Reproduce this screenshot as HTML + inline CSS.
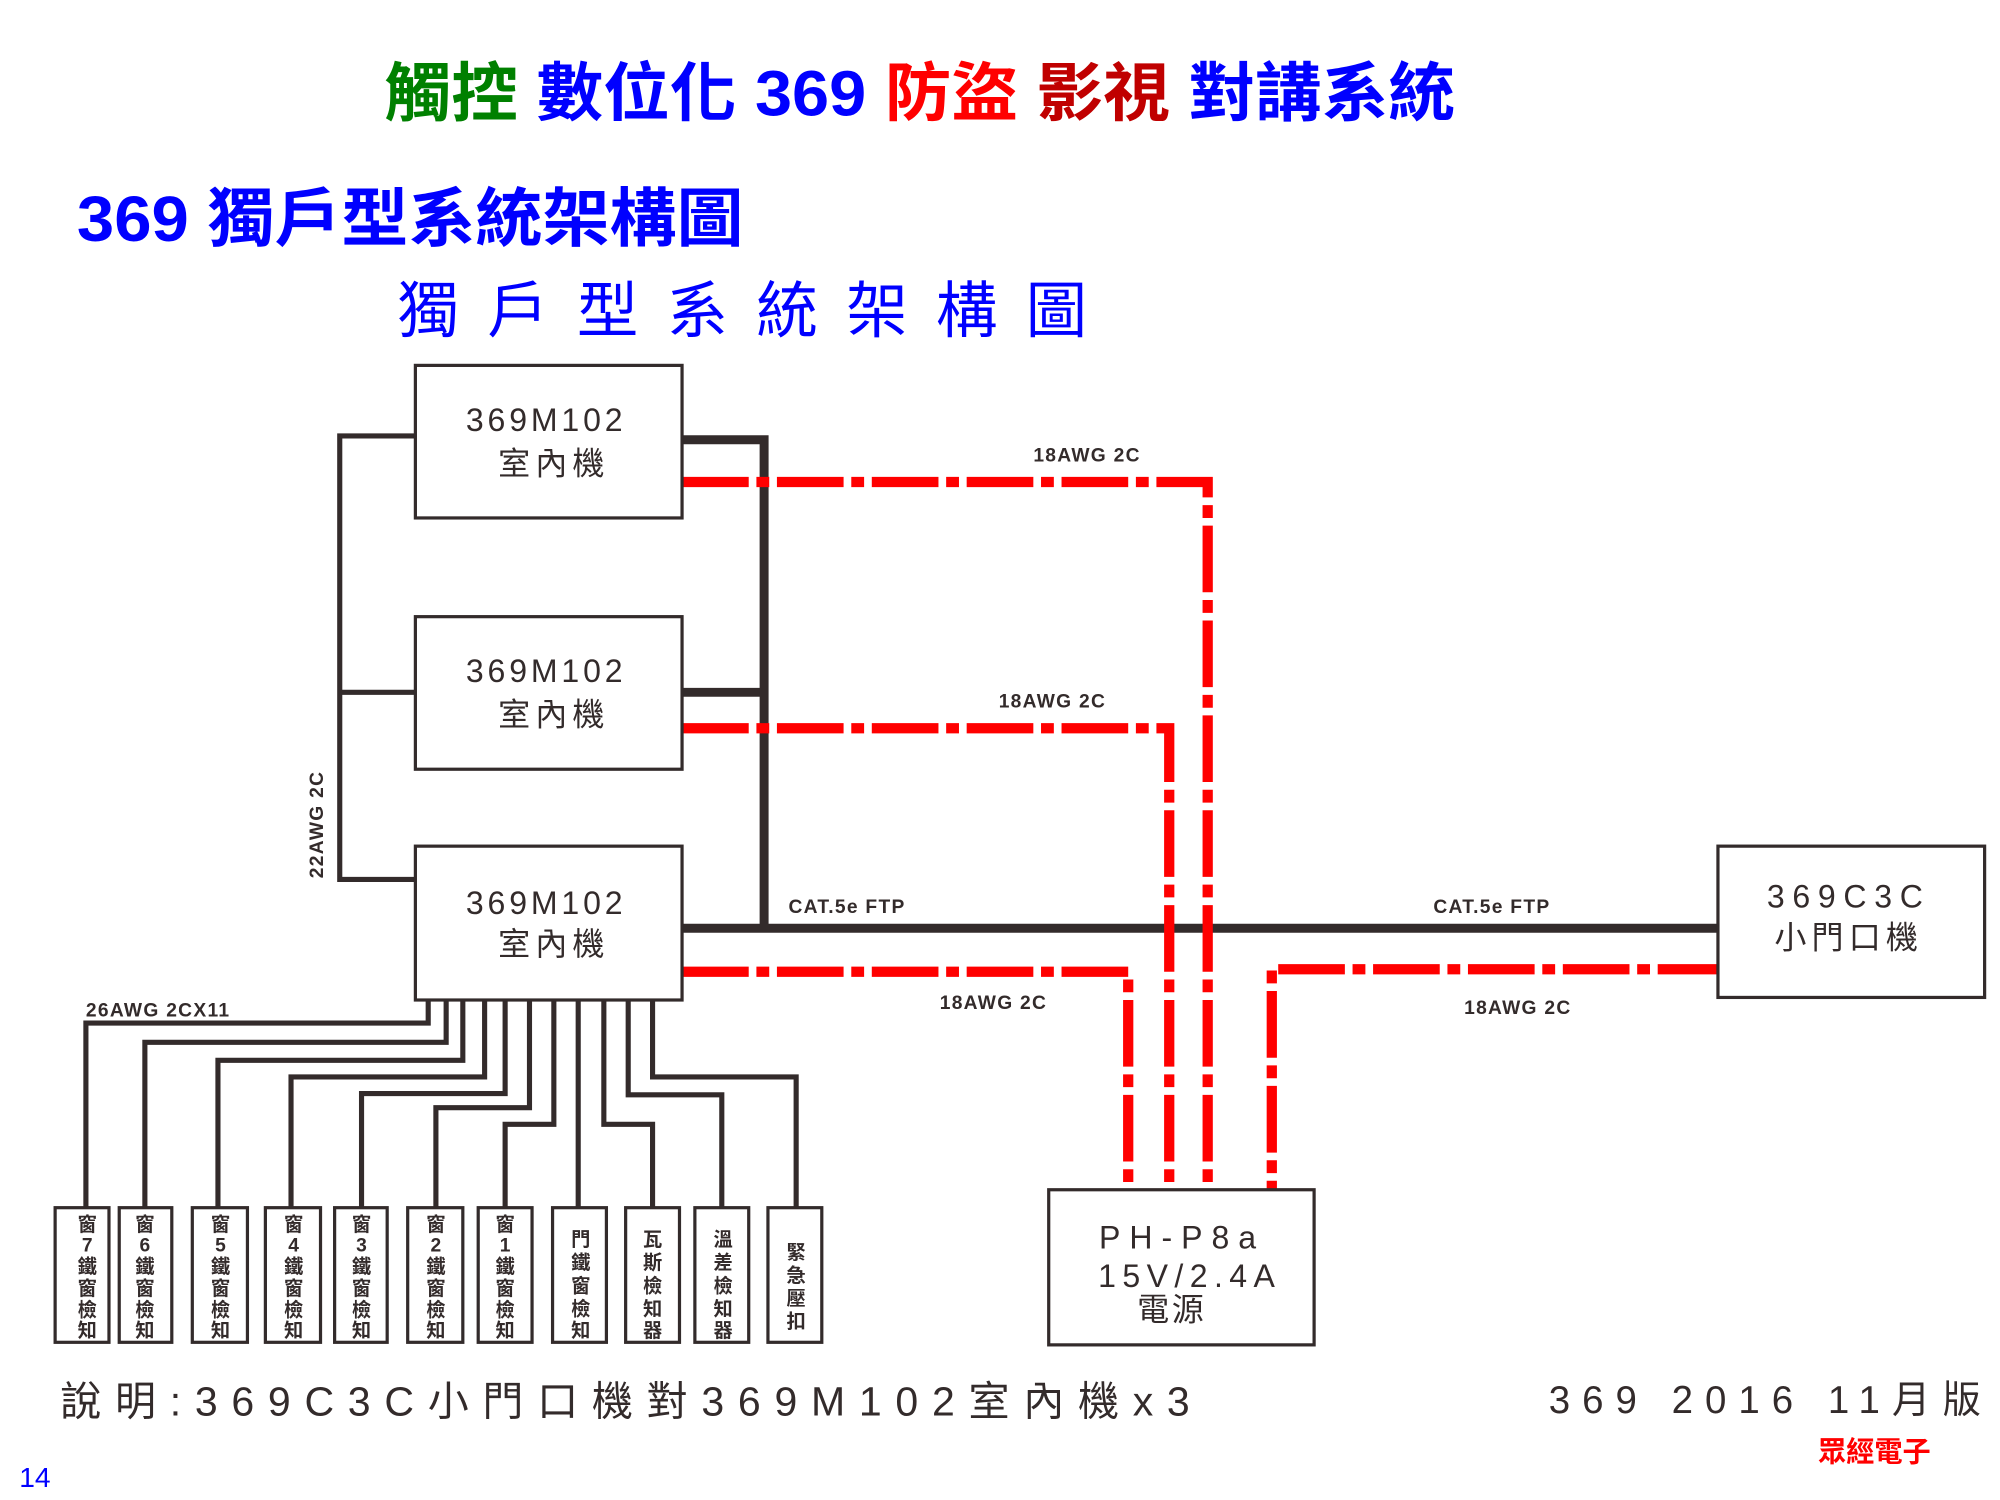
<!DOCTYPE html>
<html><head><meta charset="utf-8"><style>
html,body{margin:0;padding:0;background:#fff;}
svg{display:block;}
text{font-family:"Liberation Sans","Noto Sans CJK TC",sans-serif;}
</style></head><body>
<svg width="2000" height="1500" viewBox="0 0 1560 1170" xmlns="http://www.w3.org/2000/svg">
<rect width="1560" height="1170" fill="#fff"/>
<!-- titles -->
<text x="300" y="90" font-size="50" font-weight="bold" textLength="835" lengthAdjust="spacingAndGlyphs"><tspan fill="#008000">觸控</tspan><tspan fill="#0000ff"> 數位化 369 </tspan><tspan fill="#ff0000">防盜</tspan><tspan fill="#c00000"> 影視</tspan><tspan fill="#0000ff"> 對講系統</tspan></text>
<text x="60" y="188" font-size="50" font-weight="bold" fill="#0000ff" textLength="520" lengthAdjust="spacingAndGlyphs">369 獨戶型系統架構圖</text>
<text x="310" y="259" font-size="48" fill="#0000ff" textLength="538" lengthAdjust="spacing">獨戶型系統架構圖</text>

<g fill="none" stroke="#332b2b">
<path d="M265 340 V686 M263 340 H324 M263 540 H324 M263 686 H324" stroke-width="4"/>
<path d="M532 343 H596 V725 M532 540 H596 M532 724 H1340" stroke-width="7"/>
<g stroke-width="4">
<path d="M67 942 V798 H334 V780"/>
<path d="M113 942 V813 H348 V780"/>
<path d="M170 942 V827 H361 V780"/>
<path d="M227 942 V840 H378 V780"/>
<path d="M282 942 V853 H394 V780"/>
<path d="M340 942 V864 H413 V780"/>
<path d="M394 942 V877 H432 V780"/>
<path d="M451 942 V780"/>
<path d="M509 942 V877 H471 V780"/>
<path d="M563 942 V854 H490 V780"/>
<path d="M621 942 V840 H509 V780"/>
</g>
</g>

<g fill="none" stroke="#ff0000" stroke-width="8">
<path d="M532 376 H942 V928" stroke-dasharray="52 6 10 6"/>
<path d="M532 568 H912 V928" stroke-dasharray="52 6 10 6"/>
<path d="M532 758 H880 V928" stroke-dasharray="52 6 10 6"/>
<path d="M1345 756 H992 V928" stroke-dasharray="52 6 10 6"/>
</g>

<g fill="#fff" stroke="#332b2b" stroke-width="2.5">
<rect x="324" y="285" width="208" height="119"/>
<rect x="324" y="481" width="208" height="119"/>
<rect x="324" y="660" width="208" height="120"/>
<rect x="1340" y="660" width="208" height="118"/>
<rect x="818" y="928" width="207" height="121"/>
</g>
<g fill="#332b2b" font-size="25" text-anchor="middle">
<text x="426" y="336" letter-spacing="3">369M102</text>
<text x="432" y="370" letter-spacing="4">室內機</text>
<text x="426" y="532" letter-spacing="3">369M102</text>
<text x="432" y="566" letter-spacing="4">室內機</text>
<text x="426" y="713" letter-spacing="3">369M102</text>
<text x="432" y="745" letter-spacing="4">室內機</text>
<text x="1442" y="708" letter-spacing="6">369C3C</text>
<text x="1442" y="740" letter-spacing="4">小門口機</text>
<text x="922" y="974" letter-spacing="7">PH-P8a</text>
<text x="928" y="1004" letter-spacing="5">15V/2.4A</text>
<text x="914" y="1030" letter-spacing="2">電源</text>
</g>
<g fill="#332b2b" font-size="15" font-weight="bold" letter-spacing="1">
<text x="806" y="360">18AWG 2C</text>
<text x="779" y="552">18AWG 2C</text>
<text x="733" y="787">18AWG 2C</text>
<text x="1142" y="791">18AWG 2C</text>
<text x="615" y="712">CAT.5e FTP</text>
<text x="1118" y="712">CAT.5e FTP</text>
<text x="67" y="793">26AWG 2CX11</text>
<text transform="translate(252,685) rotate(-90)">22AWG 2C</text>
</g>

<g fill="#fff" stroke="#332b2b" stroke-width="2.5">
<rect x="43" y="942" width="42" height="105"/>
<rect x="93" y="942" width="41" height="105"/>
<rect x="150" y="942" width="43" height="105"/>
<rect x="207" y="942" width="43" height="105"/>
<rect x="261" y="942" width="41" height="105"/>
<rect x="318" y="942" width="43" height="105"/>
<rect x="373" y="942" width="42" height="105"/>
<rect x="431" y="942" width="42" height="105"/>
<rect x="488" y="942" width="42" height="105"/>
<rect x="542" y="942" width="42" height="105"/>
<rect x="599" y="942" width="42" height="105"/>
</g>
<g fill="#332b2b" font-size="15" font-weight="bold" text-anchor="middle">
<text x="68" y="960">窗</text><text x="68" y="976">7</text><text x="68" y="993">鐵</text><text x="68" y="1010">窗</text><text x="68" y="1027">檢</text><text x="68" y="1043">知</text>
<text x="113" y="960">窗</text><text x="113" y="976">6</text><text x="113" y="993">鐵</text><text x="113" y="1010">窗</text><text x="113" y="1027">檢</text><text x="113" y="1043">知</text>
<text x="172" y="960">窗</text><text x="172" y="976">5</text><text x="172" y="993">鐵</text><text x="172" y="1010">窗</text><text x="172" y="1027">檢</text><text x="172" y="1043">知</text>
<text x="229" y="960">窗</text><text x="229" y="976">4</text><text x="229" y="993">鐵</text><text x="229" y="1010">窗</text><text x="229" y="1027">檢</text><text x="229" y="1043">知</text>
<text x="282" y="960">窗</text><text x="282" y="976">3</text><text x="282" y="993">鐵</text><text x="282" y="1010">窗</text><text x="282" y="1027">檢</text><text x="282" y="1043">知</text>
<text x="340" y="960">窗</text><text x="340" y="976">2</text><text x="340" y="993">鐵</text><text x="340" y="1010">窗</text><text x="340" y="1027">檢</text><text x="340" y="1043">知</text>
<text x="394" y="960">窗</text><text x="394" y="976">1</text><text x="394" y="993">鐵</text><text x="394" y="1010">窗</text><text x="394" y="1027">檢</text><text x="394" y="1043">知</text>
<text x="453" y="972">門</text><text x="453" y="990">鐵</text><text x="453" y="1008">窗</text><text x="453" y="1026">檢</text><text x="453" y="1043">知</text>
<text x="509" y="972">瓦</text><text x="509" y="990">斯</text><text x="509" y="1008">檢</text><text x="509" y="1026">知</text><text x="509" y="1043">器</text>
<text x="564" y="972">溫</text><text x="564" y="990">差</text><text x="564" y="1008">檢</text><text x="564" y="1026">知</text><text x="564" y="1043">器</text>
<text x="621" y="982">緊</text><text x="621" y="1000">急</text><text x="621" y="1018">壓</text><text x="621" y="1036">扣</text>
</g>

<text x="47" y="1104" font-size="32" fill="#332b2b" textLength="881" lengthAdjust="spacing">說明:369C3C小門口機對369M102室內機x3</text>
<text x="1208" y="1102" font-size="30" fill="#332b2b" textLength="337" lengthAdjust="spacing">369 2016  11月版</text>
<text x="1418" y="1140" font-size="22" font-weight="bold" fill="#ff0000">眾經電子</text>
<text x="15" y="1160" font-size="22" fill="#0000ff">14</text>
</svg>
</body></html>
